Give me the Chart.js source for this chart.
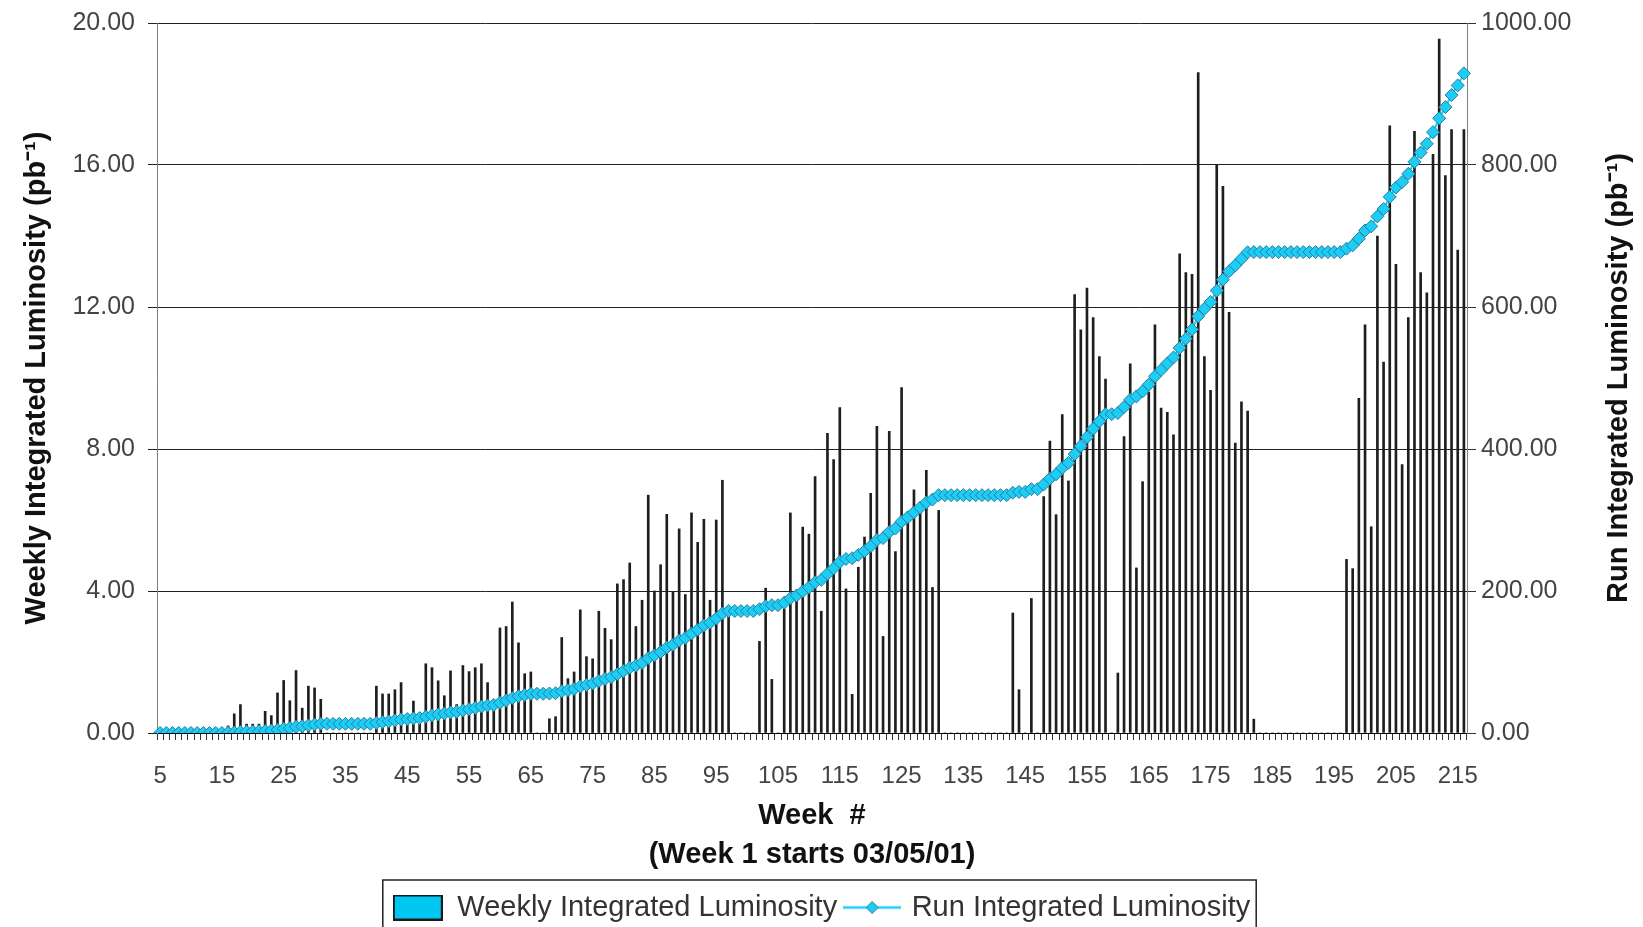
<!DOCTYPE html>
<html>
<head>
<meta charset="utf-8">
<title>Weekly and Run Integrated Luminosity</title>
<script src="https://cdn.jsdelivr.net/npm/chart.js@4.4.1/dist/chart.umd.min.js"></script>
<style>
  html, body { margin: 0; padding: 0; background: #ffffff; }
  #wrap { width: 1643px; height: 927px; }
</style>
</head>
<body>
<div id="wrap"><canvas id="lumiChart" width="1643" height="927"></canvas></div>
<script>
var FONT = "'Liberation Sans', Arial, Helvetica, sans-serif";

// weeks 5 .. 216 (week 1 starts 03/05/01)
var firstWeek = 5;
var lastWeek = 216;
var weeks = [];
for (var w = firstWeek; w <= lastWeek; w++) weeks.push(String(w));

var weekTickLabels = ['5', '15', '25', '35', '45', '55', '65', '75', '85', '95', '105',
  '115', '125', '135', '145', '155', '165', '175', '185', '195', '205', '215'];

// pb^-1 per week
var weeklyLumi = [
  0, 0, 0, 0, 0, 0, 0, 0, 0, 0,                               // 5-14
  0, 0.2, 0.54, 0.80, 0.25, 0.25, 0.25, 0.61, 0.49, 1.13,     // 15-24
  1.48, 0.91, 1.76, 0.70, 1.32, 1.27, 0.95, 0, 0, 0,          // 25-34
  0, 0, 0, 0, 0, 1.32, 1.10, 1.10, 1.22, 1.42,                // 35-44
  0.5, 0.90, 0.5, 1.95, 1.84, 1.47, 1.05, 1.75, 0.8, 1.90,    // 45-54
  1.73, 1.84, 1.95, 1.42, 0.9, 2.96, 3.0, 3.69, 2.54, 1.67,   // 55-64
  1.72, 0, 0, 0.40, 0.46, 2.69, 1.53, 1.72, 3.47, 2.15,       // 65-74
  2.09, 3.43, 2.95, 2.63, 4.2, 4.32, 4.79, 3.0, 3.74, 6.7,    // 75-84
  4.0, 4.74, 6.16, 3.97, 5.75, 3.9, 6.2, 5.37, 6.02, 3.74,    // 85-94
  6.0, 7.12, 3.4, 0, 0, 0, 0, 2.58, 4.08, 1.51,               // 95-104
  0, 3.5, 6.2, 4.0, 5.8, 5.6, 7.22, 3.43, 8.44, 7.7,          // 105-114
  9.17, 4.06, 1.09, 4.67, 5.52, 6.75, 8.64, 2.72, 8.5, 5.11,  // 115-124
  9.73, 6.1, 6.85, 6.5, 7.4, 4.1, 6.27, 0, 0, 0,              // 125-134
  0, 0, 0, 0, 0, 0, 0, 0, 3.38, 1.22,                         // 135-144
  0, 3.79, 0, 6.66, 8.22, 6.15, 8.97, 7.1, 12.35, 11.36,      // 145-154
  12.53, 11.7, 10.6, 9.97, 0, 1.69, 8.35, 10.4, 4.65, 7.08,   // 155-164
  9.6, 11.5, 9.15, 9.03, 8.4, 13.5, 12.97, 12.92, 18.6, 10.6, // 165-174
  9.65, 16.0, 15.4, 11.85, 8.17, 9.33, 9.07, 0.39, 0, 0,      // 175-184
  0, 0, 0, 0, 0, 0, 0, 0, 0, 0,                               // 185-194
  0, 0, 4.89, 4.63, 9.43, 11.5, 5.81, 14.0, 10.45, 17.1,      // 195-204
  13.2, 7.56, 11.7, 16.95, 12.97, 12.4, 16.3, 19.55, 15.7, 17.0, // 205-214
  13.6, 17.0                                                  // 215-216
];

// pb^-1 accumulated over the run
var runLumi = [
  0, 0, 0, 0, 0, 0, 0, 0, 0, 0,
  0, 0.2, 0.7, 1.5, 1.8, 2.0, 2.3, 2.9, 3.4, 4.5,
  6.0, 6.9, 8.7, 9.4, 10.7, 12.0, 12.9, 12.9, 12.9, 12.9,
  12.9, 12.9, 12.9, 12.9, 12.9, 14.2, 15.3, 16.4, 17.7, 19.1,
  19.6, 20.5, 21.0, 22.9, 24.8, 26.2, 27.3, 29.0, 29.8, 31.7,
  33.5, 35.3, 37.3, 38.7, 39.6, 42.6, 45.6, 49.2, 51.8, 53.5,
  55.2, 55.2, 55.2, 55.6, 56.0, 58.7, 60.3, 62.0, 65.4, 67.6,
  69.7, 73.1, 76.1, 78.7, 82.9, 87.2, 92.0, 95.0, 98.7, 105.4,
  109.4, 114.2, 120.3, 124.3, 130.0, 133.9, 140.1, 145.5, 151.5, 155.3,
  161.3, 168.4, 171.8, 171.8, 171.8, 171.8, 171.8, 174.4, 178.5, 180.0,
  180.0, 183.5, 189.7, 193.7, 199.5, 205.1, 212.3, 215.7, 224.2, 231.9,
  241.0, 245.1, 246.2, 250.9, 256.4, 263.1, 271.8, 274.5, 283.0, 288.1,
  297.8, 303.9, 310.8, 317.3, 324.7, 328.8, 335.0, 335.0, 335.0, 335.0,
  335.0, 335.0, 335.0, 335.0, 335.0, 335.0, 335.0, 335.0, 338.4, 339.6,
  339.6, 343.4, 343.4, 350.1, 358.3, 364.4, 373.4, 380.5, 392.8, 404.2,
  416.7, 428.4, 439.0, 449.0, 449.0, 450.7, 459.0, 469.4, 474.1, 481.2,
  490.8, 502.3, 511.4, 520.5, 528.9, 542.4, 555.3, 568.3, 586.9, 597.5,
  607.1, 623.1, 638.5, 650.4, 658.6, 667.9, 677.0, 677.3, 677.3, 677.3,
  677.3, 677.3, 677.3, 677.3, 677.3, 677.3, 677.3, 677.3, 677.3, 677.3,
  677.3, 677.3, 682.2, 686.8, 696.3, 707.8, 713.6, 727.6, 738.0, 755.1,
  768.3, 775.9, 787.6, 804.5, 817.5, 829.9, 846.2, 865.8, 881.5, 898.5,
  912.1, 929.1
];

var leftTitle = 'Weekly Integrated Luminosity (pb\u207B\u00B9)';
var rightTitle = 'Run Integrated Luminosity (pb\u207B\u00B9)';
var xTitle = ['Week  #', '(Week 1 starts 03/05/01)'];

var CYAN = '#1ccdf6';

function barSwatch() {
  var c = document.createElement('canvas');
  c.width = 50; c.height = 26;
  var g = c.getContext('2d');
  g.fillStyle = '#00c8f2';
  g.fillRect(0, 0, 50, 26);
  g.strokeStyle = '#1a1a1a';
  g.lineWidth = 2;
  g.strokeRect(1, 1, 48, 24);
  return c;
}

function lineSwatch() {
  var c = document.createElement('canvas');
  c.width = 58; c.height = 16;
  var g = c.getContext('2d');
  g.strokeStyle = CYAN;
  g.lineWidth = 2.5;
  g.beginPath(); g.moveTo(0, 8); g.lineTo(58, 8); g.stroke();
  g.beginPath();
  g.moveTo(29, 2); g.lineTo(35, 8); g.lineTo(29, 14); g.lineTo(23, 8); g.closePath();
  g.fillStyle = CYAN; g.fill();
  g.strokeStyle = '#2a7c9a'; g.lineWidth = 1; g.stroke();
  return c;
}

// right axis title reads bottom-to-top, same as the left one
var rightTitlePlugin = {
  id: 'rightTitle',
  afterDraw: function(chart) {
    var s = chart.scales.y1, a = chart.chartArea, ctx = chart.ctx;
    ctx.save();
    ctx.translate(s.right - 24, (a.top + a.bottom) / 2);
    ctx.rotate(-Math.PI / 2);
    ctx.font = 'bold 29px ' + FONT;
    ctx.fillStyle = '#111';
    ctx.textAlign = 'center';
    ctx.textBaseline = 'middle';
    ctx.fillText(rightTitle, 0, 0);
    ctx.restore();
  }
};

// frame round the legend items, open at the bottom of the picture
var legendFrame = {
  id: 'legendFrame',
  afterDraw: function(chart) {
    var boxes = chart.legend && chart.legend.legendHitBoxes;
    if (!boxes || !boxes.length) return;
    var last = boxes[boxes.length - 1];
    var left = boxes[0].left - 10;
    var right = last.left + last.width + 6;
    var top = boxes[0].top - 13;
    var ctx = chart.ctx;
    ctx.save();
    ctx.strokeStyle = '#222';
    ctx.lineWidth = 1.5;
    ctx.strokeRect(left, top, right - left, chart.height - top + 20);
    ctx.restore();
  }
};

function fixY(width) {
  return function(s) {
    s.width = width;
    s.paddingTop = 0;
    s.paddingBottom = 0;
  };
}

var chart = new Chart('lumiChart', {
  type: 'bar',
  data: {
    labels: weeks,
    datasets: [{
      type: 'bar',
      label: 'Weekly Integrated Luminosity',
      data: weeklyLumi,
      yAxisID: 'y',
      backgroundColor: '#1e1e1e',
      borderWidth: 0,
      barThickness: 2,
      order: 1,
      swatch: barSwatch()
    }, {
      type: 'line',
      label: 'Run Integrated Luminosity',
      data: runLumi,
      yAxisID: 'y1',
      borderColor: CYAN,
      borderWidth: 2,
      pointStyle: 'rectRot',
      pointRadius: 6.5,
      pointBackgroundColor: CYAN,
      pointBorderColor: '#2a7c9a',
      pointBorderWidth: 1,
      tension: 0,
      order: 0,
      swatch: lineSwatch()
    }]
  },
  options: {
    responsive: false,
    animation: false,
    layout: { padding: { top: 23, left: 0, right: 0, bottom: -5 } },
    plugins: {
      tooltip: { enabled: false },
      legend: {
        position: 'bottom',
        onClick: null,
        labels: {
          usePointStyle: true,
          pointStyleWidth: 50,
          boxHeight: 26,
          padding: 10,
          color: '#333',
          font: { family: FONT, size: 29 },
          generateLabels: function(chart) {
            return chart.data.datasets.map(function(ds, i) {
              return {
                text: ds.label,
                pointStyle: ds.swatch,
                datasetIndex: i,
                hidden: false,
                lineWidth: 0,
                fillStyle: 'rgba(0,0,0,0)',
                strokeStyle: 'rgba(0,0,0,0)',
                fontColor: '#333'
              };
            });
          }
        }
      }
    },
    scales: {
      x: {
        offset: true,
        grid: { drawOnChartArea: false, drawTicks: true, tickLength: 7, color: '#333', offset: true },
        border: { display: true, color: '#000', width: 1 },
        ticks: {
          autoSkip: false,
          maxRotation: 0,
          minRotation: 0,
          padding: 22,
          color: '#444',
          font: { family: FONT, size: 24 },
          callback: function(v, i) {
            var lab = weeks[i];
            return weekTickLabels.indexOf(lab) >= 0 ? lab : '';
          }
        },
        title: {
          display: true,
          text: xTitle,
          color: '#111',
          font: { family: FONT, size: 29, weight: 'bold', lineHeight: 1.35 },
          padding: { top: 0, bottom: 8 }
        },
        afterFit: function(s) { s.height = 150; }
      },
      y: {
        position: 'left',
        min: 0,
        max: 20,
        grid: { color: '#222', tickLength: 9, lineWidth: 1 },
        border: { display: true, color: '#808080', width: 1 },
        ticks: {
          stepSize: 4,
          padding: 13,
          color: '#444',
          font: { family: FONT, size: 25 },
          callback: function(v) { return Number(v).toFixed(2); }
        },
        title: {
          display: true,
          text: leftTitle,
          color: '#111',
          font: { family: FONT, size: 29, weight: 'bold' },
          padding: { top: 20, bottom: 0 }
        },
        afterFit: fixY(157)
      },
      y1: {
        position: 'right',
        min: 0,
        max: 1000,
        grid: { drawOnChartArea: false, color: '#333', tickLength: 9 },
        border: { display: true, color: '#808080', width: 1 },
        ticks: {
          stepSize: 200,
          padding: 5,
          color: '#444',
          font: { family: FONT, size: 25 },
          callback: function(v) { return Number(v).toFixed(2); }
        },
        afterFit: fixY(176)
      }
    }
  },
  plugins: [rightTitlePlugin, legendFrame]
});
</script>
</body>
</html>
